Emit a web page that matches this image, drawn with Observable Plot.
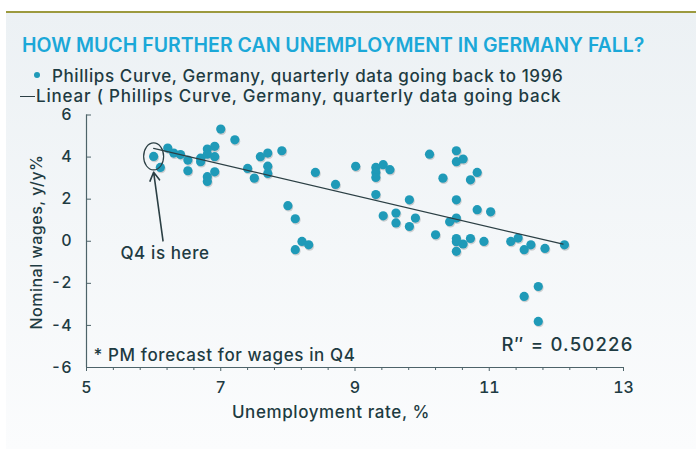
<!DOCTYPE html>
<html><head><meta charset="utf-8">
<script src="https://cdn.jsdelivr.net/npm/d3@7"></script>
<script src="https://cdn.jsdelivr.net/npm/@observablehq/plot@0.6"></script>
<style>
body{margin:0;background:#fff;font-family:Inter,"Noto Sans",sans-serif;}
#wrap{position:relative;width:696px;height:449px;overflow:hidden;background:#fff;}
#panel{position:absolute;left:6px;top:11px;right:0;bottom:0;border-top:2px solid #9c9a3e;background:linear-gradient(#ecf1f4,#fbfcfd);}
#title{position:absolute;left:22px;top:33px;font-size:19.5px;font-weight:600;color:#1ba8d8;white-space:nowrap;line-height:24px;}
.leg{position:absolute;font-size:17px;font-weight:500;letter-spacing:0.6px;color:#1e3b42;white-space:nowrap;line-height:20px;}
#leg1{left:52px;top:66px;}
#leg2{left:36px;top:86px;letter-spacing:0.8px;}
#legdot{position:absolute;left:34px;top:72px;width:6px;height:6px;border-radius:50%;background:#1f9ab8;}
#legdash{position:absolute;left:20px;top:96px;width:15px;height:1px;background:#2b3f44;}
#ytitle{position:absolute;left:36px;top:242px;transform:translate(-50%,-50%) rotate(-90deg);font-size:16px;font-weight:500;letter-spacing:0.5px;color:#1e3b42;white-space:nowrap;}
#chart{position:absolute;left:0;top:105px;}
</style>
</head><body>
<div id="wrap">
  <div id="panel"></div>
  <div id="title">HOW MUCH FURTHER CAN UNEMPLOYMENT IN GERMANY FALL?</div>
  <div id="legdot"></div>
  <div class="leg" id="leg1">Phillips Curve, Germany, quarterly data going back to 1996</div>
  <div id="legdash"></div>
  <div class="leg" id="leg2">Linear ( Phillips Curve, Germany, quarterly data going back</div>
  <div id="chart"></div>
  <div id="ytitle">Nominal wages, y/y%</div>
</div>
<script>
// Unemployment rate, %
const unemployment = [
  6.00, 6.10, 6.21, 6.30, 6.40, 6.51, 6.51, 6.70, 6.70, 6.80,
  6.80, 6.91, 6.91, 6.80, 6.80, 6.91, 7.00, 7.21, 7.40, 7.50,
  7.59, 7.70, 7.70, 7.70, 7.91, 8.00, 8.11, 8.11, 8.21, 8.31,
  8.41, 8.71, 9.01, 9.31, 9.31, 9.31, 9.42, 9.52, 9.31, 9.42,
  9.61, 9.61, 9.81, 9.81, 9.90, 10.11, 10.20, 10.31, 10.41, 10.51,
  10.51, 10.61, 10.51, 10.51, 10.51, 10.51, 10.51, 10.61, 10.72, 10.82,
  10.72, 10.82, 10.92, 11.02, 11.32, 11.43, 11.62, 11.52, 11.83, 12.12,
  11.73, 11.52, 11.73
];
// Nominal wages, y/y %
const wages = [
  4.03, 3.51, 4.43, 4.19, 4.12, 3.86, 3.35, 3.95, 3.78, 4.38,
  4.14, 4.51, 4.02, 3.07, 2.84, 3.30, 5.33, 4.82, 3.46, 3.00,
  4.02, 4.19, 3.57, 3.22, 4.30, 1.69, 1.07, -0.40, -0.01, -0.17,
  3.27, 2.70, 3.56, 3.51, 3.27, 3.03, 3.64, 3.40, 2.22, 1.21,
  1.34, 0.87, 1.97, 0.70, 1.10, 4.14, 0.31, 3.00, 0.93, 4.30,
  3.78, 3.91, 1.97, 1.10, 0.13, -0.02, -0.48, -0.13, 2.92, 3.27,
  0.13, 1.50, -0.01, 1.40, -0.01, 0.15, -0.17, -0.40, -0.34, -0.17,
  -2.15, -2.62, -3.81
];
// Linear trend endpoints
const trendX = [6.0, 12.1];
const trendY = [4.41, -0.14];
// Q4 forecast point and annotation anchors
const q4 = {x: 6.0, y: 4.03};
const q4Label = {x: 6.17, y: -0.59, text: "Q4 is here"};
const q4Arrow = {x1: 6.14, y1: 0.02, x2: 6.0, y2: 3.28};
const xTicks = [5, 7, 9, 11, 13];
const xMinorTicks = [5.4, 5.8, 6.2, 6.6, 7.4, 7.8, 8.2, 8.6, 9.4, 9.8, 10.2, 10.6, 11.4, 11.8, 12.2, 12.6];
const yTicks = [-6, -4, -2, 0, 2, 4, 6];
const xTitle = "Unemployment rate, %";
const footnote = "* PM forecast for wages in Q4";
const rsq = "R\u2033 = 0.50226";

const points = unemployment.map((u, i) => ({u, w: wages[i]}));
const trend = trendX.map((x, i) => ({x, y: trendY[i]}));

const ink = "#1e3b42";
const axisInk = "#4d6369";
const teal = "#1f9ab8";

const ellipse = {
  draw(ctx) {
    const rx = 10, ry = 13.5, k = 0.5523;
    ctx.moveTo(rx, 0);
    ctx.bezierCurveTo(rx, ry * k, rx * k, ry, 0, ry);
    ctx.bezierCurveTo(-rx * k, ry, -rx, ry * k, -rx, 0);
    ctx.bezierCurveTo(-rx, -ry * k, -rx * k, -ry, 0, -ry);
    ctx.bezierCurveTo(rx * k, -ry, rx, -ry * k, rx, 0);
    ctx.closePath();
  }
};

const spaced = (spacing) => (index, scales, values, dims, context, next) => {
  const g = next(index, scales, values, dims, context);
  g.style.letterSpacing = spacing;
  return g;
};

const chart = Plot.plot({
  width: 696,
  height: 344,
  marginTop: 9.5,
  marginBottom: 82,
  marginLeft: 86,
  marginRight: 73,
  style: {background: "transparent", fontFamily: "Inter, 'Noto Sans', sans-serif", color: ink, overflow: "visible"},
  x: {domain: [5, 13]},
  y: {domain: [-6, 6]},
  marks: [
    Plot.axisX(xTicks, {tickSize: 4, tickPadding: 10, fontSize: 16, fontWeight: 500, stroke: axisInk, fill: ink, label: null}),
    Plot.axisX(xMinorTicks, {tickSize: 3, text: null, stroke: axisInk, label: null}),
    Plot.axisY(yTicks, {tickSize: 0, tickPadding: 15, fontSize: 16, fontWeight: 500, fill: ink, label: null, tickFormat: d => String(d)}),
    Plot.tickY(yTicks, {y: d => d, stroke: axisInk, insetRight: 532}),
    Plot.ruleX([5], {stroke: axisInk, strokeWidth: 1.2}),
    Plot.ruleY([-6], {stroke: axisInk, strokeWidth: 1.2}),
    Plot.text([xTitle], {frameAnchor: "bottom", lineAnchor: "middle", dx: -24, dy: 45, fontSize: 17, fontWeight: 500, fill: ink, render: spaced("0.6px")}),
    Plot.dot(points, {x: "u", y: "w", r: 4.6, fill: "rgba(0,0,0,0.16)", dx: 0.8, dy: 1.3}),
    Plot.dot(points, {x: "u", y: "w", r: 4.6, fill: teal}),
    Plot.line(trend, {x: "x", y: "y", stroke: "#2b3f44", strokeWidth: 1.2}),
    Plot.dot([q4], {x: "x", y: "y", symbol: ellipse, fill: "none", stroke: "#2b3f44", strokeWidth: 1.2}),
    Plot.arrow([q4Arrow], {x1: "x1", y1: "y1", x2: "x2", y2: "y2", stroke: "#2b3f44", strokeWidth: 1.6, headLength: 9}),
    Plot.text([q4Label], {x: "x", y: "y", text: "text", fontSize: 17, fontWeight: 500, fill: ink, render: spaced("0.6px")}),
    Plot.text([footnote], {frameAnchor: "bottom-left", textAnchor: "start", lineAnchor: "middle", dx: 7, dy: -12, fontSize: 17, fontWeight: 500, fill: ink, render: spaced("0.6px")}),
    Plot.text([rsq], {frameAnchor: "bottom-right", textAnchor: "end", lineAnchor: "middle", dx: 10, dy: -22, fontSize: 18.5, fontWeight: 500, fill: ink, render: spaced("1.2px")})
  ]
});
document.getElementById("chart").appendChild(chart);
</script>
</body></html>
